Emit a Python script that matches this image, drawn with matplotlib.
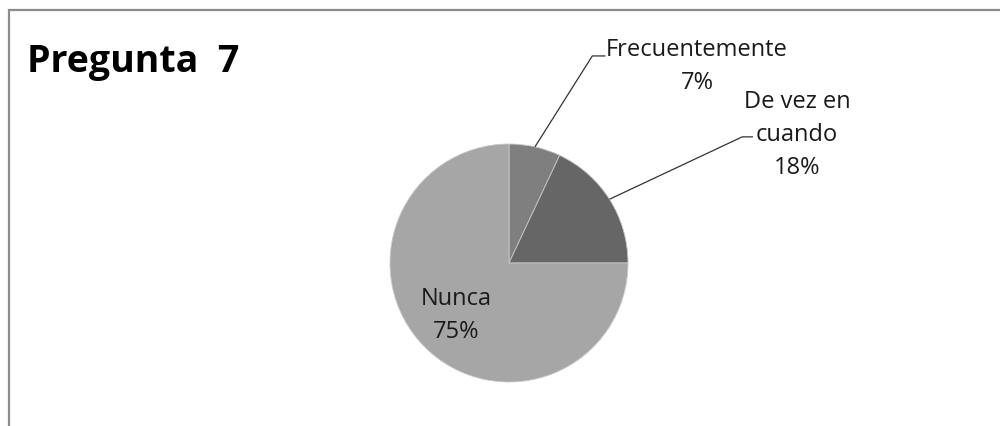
import numpy as np
import matplotlib
matplotlib.use("Agg")
import matplotlib.pyplot as plt
from matplotlib.patches import Rectangle

# %%
categories = ["Frecuentemente", "De vez en\ncuando", "Nunca"]
values = [7, 18, 75]
colors = ["#7f7f7f", "#666666", "#a6a6a6"]
title = "Pregunta  7"

plt.rcParams["font.family"] = ["Open Sans", "DejaVu Sans"]

# %%
fig = plt.figure(figsize=(10, 4.26), dpi=100)
fig.patches.append(Rectangle((0.009, -0.05), 1.5, 1 - 0.024 + 0.05, transform=fig.transFigure,
                             fill=False, edgecolor="#8c8c8c", linewidth=1.6))

fig.text(0.027, 0.855, title, fontsize=27, fontweight="bold", ha="left", va="center")

# pie axes: centre at (509, 263) px, radius ~119 px
r_px = 119
ax = fig.add_axes([(509 - r_px) / 1000, 1 - (263 + r_px) / 426, 2 * r_px / 1000, 2 * r_px / 426])
wedges, _ = ax.pie(values, colors=colors, startangle=90, counterclock=False, radius=1,
                   wedgeprops=dict(edgecolor="#c8c8c8", linewidth=0.6))
ax.set_xlim(-1, 1)
ax.set_ylim(-1, 1)
ax.set_aspect("equal")
ax.axis("off")

pct = [f"{v}%" for v in values]

# leader lines (elbow offsets relative to slice edge)
elbows = [((0.70, 1.74), (0.81, 1.74)), ((1.96, 1.06), (2.05, 1.06))]
text_pos = [(1.58, 1.655), (2.42, 1.075)]
for w, cat, p, (e1, e2), tp in zip(wedges[:2], categories[:2], pct[:2], elbows, text_pos):
    ang = np.deg2rad((w.theta1 + w.theta2) / 2)
    x0, y0 = np.cos(ang), np.sin(ang)
    ax.plot([x0, e1[0], e2[0]], [y0, e1[1], e2[1]], color="#333333", linewidth=0.9,
            clip_on=False, solid_capstyle="butt")
    ax.text(tp[0], tp[1], f"{cat}\n{p}", ha="center", va="center", fontsize=17,
            color="#1a1a1a", linespacing=1.5, clip_on=False)

ax.text(-0.445, -0.445, f"{categories[2]}\n{pct[2]}", ha="center", va="center",
        fontsize=17, color="#1a1a1a", linespacing=1.5)

fig.savefig("out.png", dpi=100)
